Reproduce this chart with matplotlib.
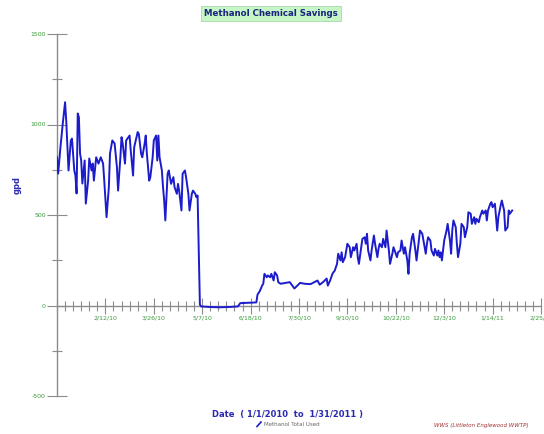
import matplotlib
matplotlib.use("Agg")
import matplotlib.pyplot as plt
from matplotlib.lines import Line2D
from matplotlib.ticker import MultipleLocator, FixedLocator

# ---- data (day offset from 1/1/2010, methanol gpd) ----
days = [0, 1, 3, 5, 7, 8, 10, 12, 13, 15, 16, 17, 18, 19, 20, 21, 22, 24, 25, 27,
        28, 30, 31, 32, 34, 36, 37, 38, 40, 41, 43, 45, 46, 48, 50, 52, 53, 55, 56, 57,
        59, 60, 63, 64, 66, 67, 70, 71, 73, 74, 76, 77, 78, 80, 81, 83, 84, 86, 87, 88,
        89, 91, 92, 93, 94, 96, 97, 99, 101, 102, 104, 105, 106, 108, 109, 111, 112, 114, 115, 117,
        118, 120, 121, 122, 123, 124, 125, 132, 141, 150, 157, 159, 167, 173, 174, 176, 178, 179, 180, 182,
        183, 185, 186, 188, 189, 191, 192, 194, 202, 206, 211, 215, 220, 226, 228, 231, 234, 235, 237, 239,
        241, 243, 244, 246, 247, 248, 250, 252, 254, 255, 257, 258, 260, 261, 262, 264, 265, 267, 268, 269,
        270, 272, 273, 275, 276, 278, 279, 280, 282, 283, 285, 286, 288, 289, 291, 292, 293, 295, 296, 298,
        299, 301, 302, 304, 305, 306, 308, 309, 311, 312, 314, 315, 317, 318, 320, 321, 322, 324, 325, 327,
        328, 330, 331, 332, 333, 334, 336, 338, 339, 341, 342, 343, 344, 346, 347, 348, 350, 351, 353, 354,
        356, 357, 359, 360, 362, 363, 364, 366, 367, 369, 370, 372, 373, 374, 376, 377, 378, 380, 381, 382,
        383, 385, 386, 388, 389, 391, 392, 393, 395]
gpd = [819, 729, 875, 1005, 1123, 1022, 746, 912, 922, 746, 718, 619, 1061, 1040, 840, 801, 674, 801, 563, 690,
       812, 746, 784, 690, 819, 784, 801, 819, 784, 690, 488, 654, 840, 912, 895, 764, 635, 819, 930, 895,
       784, 912, 939, 856, 718, 875, 958, 948, 838, 819, 893, 939, 838, 690, 709, 819, 912, 939, 801, 939,
       819, 746, 654, 580, 470, 728, 746, 672, 709, 654, 617, 672, 635, 525, 728, 746, 709, 617, 525, 617,
       635, 617, 598, 608, 300, 5, -5, -8, -10, -8, -5, 13, 15, 17, 60, 80, 110, 120, 175, 156,
       166, 156, 175, 138, 184, 166, 129, 120, 129, 94, 125, 120, 118, 138, 115, 130, 149, 110, 138, 175,
       193, 230, 286, 249, 294, 239, 267, 341, 322, 267, 322, 304, 341, 267, 230, 322, 368, 377, 341, 396,
       304, 249, 304, 387, 341, 267, 313, 341, 322, 368, 322, 414, 304, 230, 286, 322, 304, 267, 294, 304,
       359, 286, 322, 249, 175, 286, 377, 396, 304, 249, 359, 414, 396, 359, 286, 341, 377, 359, 304, 276,
       313, 276, 304, 267, 294, 249, 359, 414, 451, 359, 286, 414, 470, 433, 341, 267, 341, 451, 433, 377,
       433, 515, 507, 451, 488, 451, 479, 460, 488, 525, 507, 525, 470, 525, 562, 571, 543, 562, 488, 414,
       488, 553, 580, 525, 414, 433, 525, 507, 525]

major_days = [42, 84, 126, 168, 210, 252, 294, 336, 378, 420]
major_labels = ['2/12/10', '3/26/10', '5/7/10', '6/18/10', '7/30/10', '9/10/10',
                '10/22/10', '12/3/10', '1/14/11', '2/25/11']
y_ticks = [-500, 0, 500, 1000, 1500]

# ---- figure ----
W, H = 544, 434
fig = plt.figure(figsize=(W / 100, H / 100), dpi=100)
ax = fig.add_axes([57 / W, 1 - 396 / H, (541 - 57) / W, (396 - 34) / H])

axis_col = '#8c8c8c'
tick_col = '#3a9a3a'
blue = '#1c1ccc'

ax.plot(days, gpd, color=blue, lw=1.4, zorder=3)

ax.set_xlim(0, 420)
ax.set_ylim(-500, 1500)

for s in ['top', 'right']:
    ax.spines[s].set_visible(False)
ax.spines['bottom'].set_position(('data', 0))
ax.spines['bottom'].set_color(axis_col)
ax.spines['left'].set_color(axis_col)
ax.spines['bottom'].set_linewidth(1.0)
ax.spines['left'].set_linewidth(1.0)

ax.xaxis.set_major_locator(FixedLocator(major_days))
ax.set_xticklabels(major_labels)
ax.xaxis.set_minor_locator(MultipleLocator(7))
ax.tick_params(axis='x', which='major', direction='inout', length=12, width=0.8,
               color=axis_col, labelsize=4.5, labelcolor=tick_col, pad=1)
ax.tick_params(axis='x', which='minor', direction='inout', length=7, width=0.8,
               color=axis_col)

ax.set_yticks(y_ticks)
ax.set_yticklabels([str(v) for v in y_ticks])
ax.yaxis.set_minor_locator(MultipleLocator(250))
ax.tick_params(axis='y', which='major', direction='inout', length=14, width=0.8,
               color=axis_col, labelsize=4.5, labelcolor=tick_col, pad=1)
ax.tick_params(axis='y', which='minor', direction='inout', length=7, width=0.8,
               color=axis_col)

# ---- texts ----
fig.text(271 / W, 1 - 13.5 / H, 'Methanol Chemical Savings', ha='center', va='center',
         fontsize=6.2, fontweight='bold', color='#1a237e',
         bbox=dict(boxstyle='square,pad=0.35', fc='#c6f5c6', ec='#a8d8a8', lw=0.6))
fig.text(17 / W, 1 - 185 / H, 'gpd', rotation=90, ha='center', va='center',
         fontsize=6, fontweight='bold', color='#2a2ab0')
fig.text(287 / W, 1 - 414 / H, 'Date  ( 1/1/2010  to  1/31/2011 )', ha='center', va='center',
         fontsize=6, fontweight='bold', color='#2a2ab0')
fig.add_artist(Line2D([257 / W, 261 / W], [1 - 426.5 / H, 1 - 422 / H], color=blue, lw=1.2))
fig.text(264 / W, 1 - 424 / H, 'Methanol Total Used', ha='left', va='center',
         fontsize=4, color='#666666')
fig.text(481 / W, 1 - 425 / H, 'WWS (Littleton Englewood WWTP)', ha='center', va='center',
         fontsize=4, style='italic', color='#a03030')

fig.savefig('out.png', dpi=100)
